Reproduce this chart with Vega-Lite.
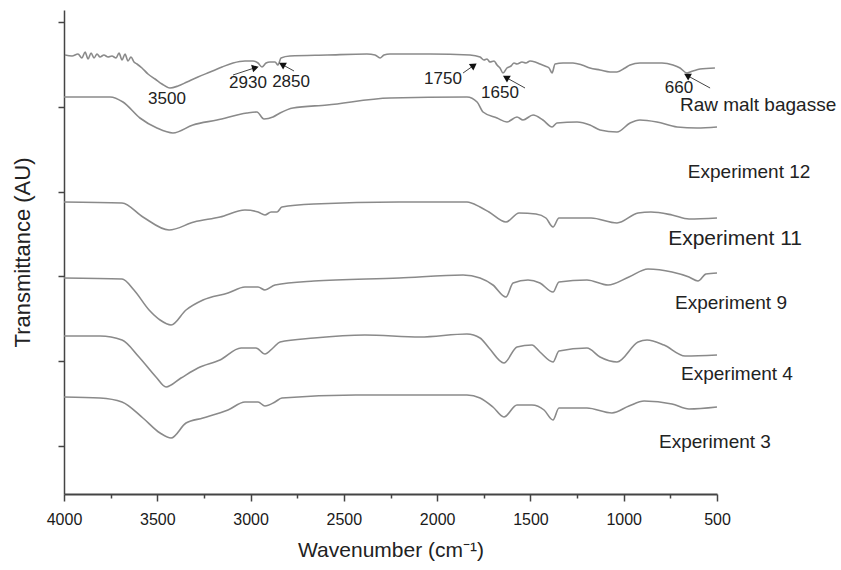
{
  "$schema": "https://vega.github.io/schema/vega-lite/v6.json",
  "width": 653,
  "height": 484,
  "autosize": "none",
  "padding": {"left": 64, "top": 10, "right": 124, "bottom": 76},
  "background": "white",
  "config": {"view": {"stroke": null}, "font": "Liberation Sans"},
  "datasets": {
    "spectra": [
      {"s":"Raw","w":3995,"t":439},{"s":"Raw","w":3957,"t":438},{"s":"Raw","w":3925,"t":440},{"s":"Raw","w":3904,"t":436},{"s":"Raw","w":3887,"t":442},{"s":"Raw","w":3871,"t":435},{"s":"Raw","w":3855,"t":441},{"s":"Raw","w":3839,"t":436},{"s":"Raw","w":3823,"t":440},{"s":"Raw","w":3807,"t":437},{"s":"Raw","w":3786,"t":439},{"s":"Raw","w":3764,"t":437},{"s":"Raw","w":3743,"t":438},{"s":"Raw","w":3721,"t":436},{"s":"Raw","w":3705,"t":441},{"s":"Raw","w":3689,"t":434},{"s":"Raw","w":3673,"t":440},{"s":"Raw","w":3657,"t":433},{"s":"Raw","w":3641,"t":437},{"s":"Raw","w":3625,"t":432},{"s":"Raw","w":3609,"t":430},{"s":"Raw","w":3582,"t":426},{"s":"Raw","w":3550,"t":420},{"s":"Raw","w":3512,"t":415},{"s":"Raw","w":3475,"t":410},{"s":"Raw","w":3432,"t":406},{"s":"Raw","w":3389,"t":408},{"s":"Raw","w":3341,"t":412},{"s":"Raw","w":3282,"t":417},{"s":"Raw","w":3217,"t":422},{"s":"Raw","w":3153,"t":427},{"s":"Raw","w":3094,"t":431},{"s":"Raw","w":3030,"t":433},{"s":"Raw","w":2987,"t":433},{"s":"Raw","w":2960,"t":431},{"s":"Raw","w":2939,"t":427},{"s":"Raw","w":2917,"t":431},{"s":"Raw","w":2896,"t":432},{"s":"Raw","w":2869,"t":432},{"s":"Raw","w":2853,"t":429},{"s":"Raw","w":2837,"t":436},{"s":"Raw","w":2789,"t":438},{"s":"Raw","w":2590,"t":439},{"s":"Raw","w":2376,"t":440},{"s":"Raw","w":2333,"t":439},{"s":"Raw","w":2306,"t":436},{"s":"Raw","w":2285,"t":439},{"s":"Raw","w":2253,"t":440},{"s":"Raw","w":2038,"t":440},{"s":"Raw","w":1824,"t":439},{"s":"Raw","w":1770,"t":437},{"s":"Raw","w":1749,"t":434},{"s":"Raw","w":1733,"t":435},{"s":"Raw","w":1717,"t":432},{"s":"Raw","w":1695,"t":433},{"s":"Raw","w":1679,"t":429},{"s":"Raw","w":1663,"t":426},{"s":"Raw","w":1647,"t":421},{"s":"Raw","w":1626,"t":426},{"s":"Raw","w":1604,"t":428},{"s":"Raw","w":1588,"t":431},{"s":"Raw","w":1572,"t":430},{"s":"Raw","w":1545,"t":432},{"s":"Raw","w":1524,"t":431},{"s":"Raw","w":1502,"t":433},{"s":"Raw","w":1475,"t":432},{"s":"Raw","w":1449,"t":430},{"s":"Raw","w":1422,"t":428},{"s":"Raw","w":1400,"t":426},{"s":"Raw","w":1384,"t":421},{"s":"Raw","w":1368,"t":430},{"s":"Raw","w":1325,"t":431},{"s":"Raw","w":1272,"t":431},{"s":"Raw","w":1224,"t":429},{"s":"Raw","w":1181,"t":426},{"s":"Raw","w":1127,"t":424},{"s":"Raw","w":1073,"t":422},{"s":"Raw","w":1036,"t":422},{"s":"Raw","w":993,"t":426},{"s":"Raw","w":966,"t":429},{"s":"Raw","w":913,"t":431},{"s":"Raw","w":859,"t":431},{"s":"Raw","w":795,"t":431},{"s":"Raw","w":736,"t":429},{"s":"Raw","w":698,"t":426},{"s":"Raw","w":661,"t":421},{"s":"Raw","w":629,"t":423},{"s":"Raw","w":591,"t":425},{"s":"Raw","w":511,"t":426},
      {"s":"E12","w":4000,"t":397},{"s":"E12","w":3753,"t":397},{"s":"E12","w":3684,"t":392},{"s":"E12","w":3593,"t":376},{"s":"E12","w":3502,"t":366},{"s":"E12","w":3416,"t":361},{"s":"E12","w":3309,"t":369},{"s":"E12","w":3180,"t":374},{"s":"E12","w":3019,"t":381},{"s":"E12","w":2966,"t":382},{"s":"E12","w":2928,"t":375},{"s":"E12","w":2880,"t":377},{"s":"E12","w":2842,"t":381},{"s":"E12","w":2773,"t":386},{"s":"E12","w":2590,"t":389},{"s":"E12","w":2253,"t":396},{"s":"E12","w":1840,"t":397},{"s":"E12","w":1786,"t":392},{"s":"E12","w":1754,"t":382},{"s":"E12","w":1679,"t":376},{"s":"E12","w":1626,"t":372},{"s":"E12","w":1572,"t":377},{"s":"E12","w":1540,"t":374},{"s":"E12","w":1486,"t":379},{"s":"E12","w":1433,"t":374},{"s":"E12","w":1384,"t":367},{"s":"E12","w":1358,"t":371},{"s":"E12","w":1250,"t":372},{"s":"E12","w":1181,"t":369},{"s":"E12","w":1127,"t":364},{"s":"E12","w":1036,"t":362},{"s":"E12","w":966,"t":371},{"s":"E12","w":913,"t":374},{"s":"E12","w":822,"t":372},{"s":"E12","w":714,"t":367},{"s":"E12","w":607,"t":366},{"s":"E12","w":500,"t":367},
      {"s":"E11","w":4000,"t":292},{"s":"E11","w":3689,"t":291},{"s":"E11","w":3577,"t":277},{"s":"E11","w":3437,"t":264},{"s":"E11","w":3303,"t":272},{"s":"E11","w":3164,"t":277},{"s":"E11","w":3030,"t":284},{"s":"E11","w":2960,"t":282},{"s":"E11","w":2923,"t":279},{"s":"E11","w":2890,"t":282},{"s":"E11","w":2858,"t":282},{"s":"E11","w":2832,"t":287},{"s":"E11","w":2660,"t":290},{"s":"E11","w":2204,"t":292},{"s":"E11","w":1840,"t":292},{"s":"E11","w":1770,"t":287},{"s":"E11","w":1722,"t":282},{"s":"E11","w":1631,"t":272},{"s":"E11","w":1561,"t":281},{"s":"E11","w":1470,"t":280},{"s":"E11","w":1417,"t":276},{"s":"E11","w":1379,"t":267},{"s":"E11","w":1347,"t":276},{"s":"E11","w":1175,"t":276},{"s":"E11","w":1036,"t":271},{"s":"E11","w":923,"t":281},{"s":"E11","w":854,"t":282},{"s":"E11","w":741,"t":279},{"s":"E11","w":650,"t":275},{"s":"E11","w":500,"t":276},
      {"s":"E9","w":4000,"t":216},{"s":"E9","w":3689,"t":215},{"s":"E9","w":3625,"t":204},{"s":"E9","w":3544,"t":184},{"s":"E9","w":3485,"t":174},{"s":"E9","w":3426,"t":169},{"s":"E9","w":3346,"t":184},{"s":"E9","w":3255,"t":194},{"s":"E9","w":3121,"t":201},{"s":"E9","w":3030,"t":207},{"s":"E9","w":2960,"t":207},{"s":"E9","w":2923,"t":204},{"s":"E9","w":2869,"t":209},{"s":"E9","w":2660,"t":213},{"s":"E9","w":2204,"t":216},{"s":"E9","w":1861,"t":219},{"s":"E9","w":1770,"t":216},{"s":"E9","w":1701,"t":209},{"s":"E9","w":1631,"t":197},{"s":"E9","w":1593,"t":211},{"s":"E9","w":1513,"t":214},{"s":"E9","w":1449,"t":211},{"s":"E9","w":1379,"t":202},{"s":"E9","w":1347,"t":212},{"s":"E9","w":1197,"t":214},{"s":"E9","w":1084,"t":209},{"s":"E9","w":972,"t":217},{"s":"E9","w":870,"t":225},{"s":"E9","w":741,"t":222},{"s":"E9","w":650,"t":217},{"s":"E9","w":602,"t":213},{"s":"E9","w":559,"t":220},{"s":"E9","w":500,"t":221},
      {"s":"E4","w":4000,"t":158},{"s":"E4","w":3807,"t":158},{"s":"E4","w":3689,"t":154},{"s":"E4","w":3598,"t":137},{"s":"E4","w":3507,"t":117},{"s":"E4","w":3453,"t":107},{"s":"E4","w":3373,"t":116},{"s":"E4","w":3282,"t":126},{"s":"E4","w":3164,"t":134},{"s":"E4","w":3051,"t":146},{"s":"E4","w":2971,"t":146},{"s":"E4","w":2923,"t":140},{"s":"E4","w":2880,"t":146},{"s":"E4","w":2842,"t":152},{"s":"E4","w":2660,"t":156},{"s":"E4","w":2387,"t":159},{"s":"E4","w":2092,"t":157},{"s":"E4","w":1840,"t":160},{"s":"E4","w":1770,"t":156},{"s":"E4","w":1722,"t":146},{"s":"E4","w":1642,"t":131},{"s":"E4","w":1572,"t":147},{"s":"E4","w":1492,"t":149},{"s":"E4","w":1449,"t":142},{"s":"E4","w":1379,"t":132},{"s":"E4","w":1347,"t":143},{"s":"E4","w":1197,"t":146},{"s":"E4","w":1127,"t":137},{"s":"E4","w":1036,"t":132},{"s":"E4","w":923,"t":152},{"s":"E4","w":875,"t":154},{"s":"E4","w":784,"t":149},{"s":"E4","w":671,"t":138},{"s":"E4","w":500,"t":139},
      {"s":"E3","w":4000,"t":97},{"s":"E3","w":3807,"t":96},{"s":"E3","w":3689,"t":92},{"s":"E3","w":3577,"t":76},{"s":"E3","w":3485,"t":61},{"s":"E3","w":3426,"t":56},{"s":"E3","w":3346,"t":71},{"s":"E3","w":3255,"t":76},{"s":"E3","w":3121,"t":84},{"s":"E3","w":3030,"t":92},{"s":"E3","w":2960,"t":92},{"s":"E3","w":2923,"t":88},{"s":"E3","w":2869,"t":92},{"s":"E3","w":2832,"t":96},{"s":"E3","w":2435,"t":99},{"s":"E3","w":1840,"t":99},{"s":"E3","w":1770,"t":96},{"s":"E3","w":1701,"t":87},{"s":"E3","w":1642,"t":77},{"s":"E3","w":1572,"t":89},{"s":"E3","w":1492,"t":89},{"s":"E3","w":1427,"t":84},{"s":"E3","w":1379,"t":74},{"s":"E3","w":1347,"t":86},{"s":"E3","w":1197,"t":86},{"s":"E3","w":1063,"t":81},{"s":"E3","w":972,"t":88},{"s":"E3","w":891,"t":93},{"s":"E3","w":741,"t":90},{"s":"E3","w":650,"t":85},{"s":"E3","w":500,"t":87}
    ],
    "peaks": [
      {"lab":"3500","w":3448,"t":395},
      {"lab":"2930","w":3014,"t":411},
      {"lab":"2850","w":2783,"t":412},
      {"lab":"1750","w":1969,"t":415},
      {"lab":"1650","w":1663,"t":401},
      {"lab":"660","w":704,"t":406}
    ],
    "names": [
      {"lab":"Raw malt bagasse","w":280,"t":389,"big":false},
      {"lab":"Experiment 12","w":328,"t":322,"big":false},
      {"lab":"Experiment 11","w":403,"t":255,"big":true},
      {"lab":"Experiment 9","w":425,"t":191,"big":false},
      {"lab":"Experiment 4","w":393,"t":120,"big":false},
      {"lab":"Experiment 3","w":511,"t":52,"big":false}
    ],
    "arrows": [
      {"lab":"2930","w1":3094,"t1":419,"w2":2980,"t2":426},
      {"lab":"2850","w1":2767,"t1":423,"w2":2826,"t2":429},
      {"lab":"1750","w1":1861,"t1":421,"w2":1808,"t2":428},
      {"lab":"1650","w1":1529,"t1":406,"w2":1626,"t2":416},
      {"lab":"660","w1":537,"t1":406,"w2":655,"t2":418}
    ]
  },
  "resolve": {"axis": {"x": "independent", "y": "independent"}},
  "layer": [
    {
      "data": {"name": "spectra"},
      "mark": {"type": "line", "color": "#8a8a8a", "strokeWidth": 1.6, "interpolate": "monotone"},
      "encoding": {
        "x": {
          "field": "w", "type": "quantitative",
          "scale": {"domain": [4000, 500], "nice": false, "zero": false},
          "axis": {
            "orient": "bottom",
            "title": "Wavenumber (cm⁻¹)",
            "values": [4000,3750,3500,3250,3000,2750,2500,2250,2000,1750,1500,1250,1000,750,500],
            "format": "d",
            "labelExpr": "datum.value % 500 === 0 ? datum.label : ''",
            "tickSize": {"condition": {"test": "datum.value % 500 === 0", "value": 7}, "value": 4},
            "grid": false,
            "domainColor": "#444", "domainWidth": 2,
            "tickColor": "#444", "tickWidth": 1.5,
            "labelFont": "Liberation Sans", "labelFontSize": 16, "labelColor": "#1a1a1a",
            "labelPadding": 10, "labelFlush": false, "labelOverlap": false,
            "titleFont": "Liberation Sans", "titleFontSize": 21, "titleFontWeight": "normal",
            "titleColor": "#222", "titlePadding": 12
          }
        },
        "y": {
          "field": "t", "type": "quantitative",
          "scale": {"domain": [0, 484], "nice": false, "zero": false},
          "axis": {
            "orient": "left",
            "title": "Transmittance (AU)",
            "values": [48, 133, 218, 302, 387, 472],
            "labels": false,
            "grid": false,
            "tickSize": 6,
            "domainColor": "#444", "domainWidth": 1.5,
            "tickColor": "#444", "tickWidth": 1.5,
            "titleFont": "Liberation Sans", "titleFontSize": 22, "titleFontWeight": "normal",
            "titleColor": "#222", "titlePadding": 23
          }
        },
        "detail": {"field": "s"}
      }
    },
    {
      "data": {"name": "arrows"},
      "mark": {"type": "rule", "color": "#444", "strokeWidth": 1},
      "encoding": {
        "x": {"field": "w1", "type": "quantitative", "axis": null},
        "y": {"field": "t1", "type": "quantitative", "axis": null},
        "x2": {"field": "w2"},
        "y2": {"field": "t2"}
      }
    },
    {
      "data": {"name": "arrows"},
      "transform": [{"filter": "datum.lab === '2930'"}],
      "mark": {"type": "point", "shape": "triangle", "filled": true, "color": "#111", "size": 60, "angle": 75, "opacity": 1},
      "encoding": {
        "x": {"field": "w2", "type": "quantitative", "axis": null},
        "y": {"field": "t2", "type": "quantitative", "axis": null}
      }
    },
    {
      "data": {"name": "arrows"},
      "transform": [{"filter": "datum.lab === '1750'"}],
      "mark": {"type": "point", "shape": "triangle", "filled": true, "color": "#111", "size": 60, "angle": 55, "opacity": 1},
      "encoding": {
        "x": {"field": "w2", "type": "quantitative", "axis": null},
        "y": {"field": "t2", "type": "quantitative", "axis": null}
      }
    },
    {
      "data": {"name": "arrows"},
      "transform": [{"filter": "datum.lab === '2850' || datum.lab === '1650' || datum.lab === '660'"}],
      "mark": {"type": "point", "shape": "triangle", "filled": true, "color": "#111", "size": 60, "angle": 299, "opacity": 1},
      "encoding": {
        "x": {"field": "w2", "type": "quantitative", "axis": null},
        "y": {"field": "t2", "type": "quantitative", "axis": null}
      }
    },
    {
      "data": {"name": "peaks"},
      "mark": {"type": "text", "font": "Liberation Sans", "fontSize": 17, "color": "#222", "align": "center", "baseline": "middle"},
      "encoding": {
        "x": {"field": "w", "type": "quantitative", "axis": null},
        "y": {"field": "t", "type": "quantitative", "axis": null},
        "text": {"field": "lab"}
      }
    },
    {
      "data": {"name": "names"},
      "mark": {"type": "text", "font": "Liberation Sans", "color": "#222", "align": "center", "baseline": "middle"},
      "encoding": {
        "x": {"field": "w", "type": "quantitative", "axis": null},
        "y": {"field": "t", "type": "quantitative", "axis": null},
        "text": {"field": "lab"},
        "size": {"field": "big", "type": "nominal", "scale": {"domain": [false, true], "range": [19, 21]}, "legend": null}
      }
    }
  ]
}
